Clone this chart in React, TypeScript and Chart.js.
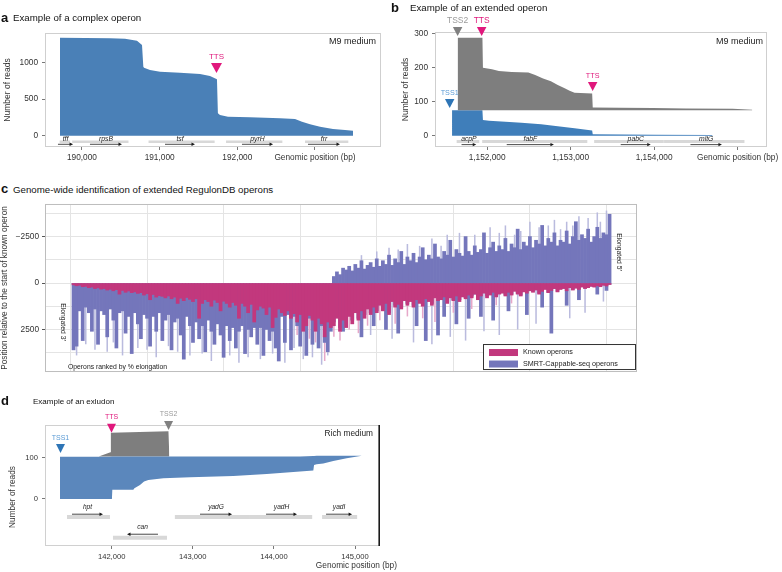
import React, { useEffect, useRef } from 'react';
import { Chart, registerables } from 'chart.js';

Chart.register(...registerables);

const FONT = '"Liberation Sans", Arial, Helvetica, sans-serif';
Chart.defaults.font.family = FONT;
Chart.defaults.color = '#333333';

/* ---------------- panel a : complex operon ---------------- */
const aPos = [189717, 190361, 190554, 190708, 190773, 190790, 190799, 190876, 191005, 191262, 191520, 191648, 191738, 191750, 191777, 191880, 192163, 192550, 192743, 192833, 192936, 193065, 193232, 193387, 193490];
const aReads = [1335, 1330, 1322, 1294, 1236, 940, 926, 895, 872, 858, 841, 813, 768, 305, 282, 259, 250, 237, 228, 191, 155, 123, 91, 78, 68];
const aXTicks = [190000, 191000, 192000, 193000];
const aYTicks = [0, 500, 1000];
const aGeneNames = ['tff', 'rpsB', 'tsf', 'pyrH', 'frr'];
const aGeneStart = [189712, 189874, 190857, 191855, 192872];
const aGeneEnd = [189847, 190599, 191708, 192580, 193429];
const aArrowFrom = [189691, 190103, 191069, 192060, 192910];
const aArrowTo = [189885, 190515, 191455, 192460, 193322];
const aMarkLabels = ['TTS'];
const aMarkPos = [191732];
const aMarkLevel = [854];

/* ---------------- panel b : extended operon ---------------- */
const bGrayPos = [1151647, 1151944, 1151950, 1152058, 1152141, 1152294, 1152494, 1152576, 1152670, 1152764, 1152846, 1152929, 1152988, 1153047, 1153258, 1153265, 1153588, 1153988, 1154376, 1154941, 1155176];
const bGrayReads = [287, 287, 199, 195, 190, 187, 185, 178, 168, 160, 149, 139, 132, 126, 124, 83, 82, 81, 80, 79, 76.5];
const bGrayBase = 75;
const bBluePos = [1151580, 1151944, 1151950, 1152023, 1152220, 1152411, 1152647, 1152846, 1153047, 1153258, 1153265, 1154000, 1154700];
const bBlueReads = [75, 75, 46, 44, 41, 38, 34, 28, 22, 15, 4, 3, 2];
const bXTicks = [1152000, 1153000, 1154000, 1155000];
const bYTicks = [0, 100, 200, 300];
const bGeneNames = ['acpP', 'fabF', 'pabC', 'mltG'];
const bGeneStart = [1151635, 1151941, 1153282, 1154119];
const bGeneEnd = [1151906, 1153200, 1154116, 1155082];
const bArrowFrom = [1151694, 1152235, 1153600, 1154435];
const bArrowTo = [1151870, 1152800, 1153960, 1154812];
const bMarkLabels = ['TSS1', 'TSS2', 'TTS', 'TTS'];
const bMarkPos = [1151552, 1151647, 1151935, 1153264];
const bMarkLevel = [81, 292, 292, 131];

/* ---------------- panel c : genome-wide ---------------- */
const knownEnd = [
  100, 150, 120, 200, 180, 250, 220, 300, 260, 330,
  300, 380, 340, 420, 360, 600, 400, 500, 430, 520,
  480, 560, 520, 650, 580, 900, 620, 760, 680, 720,
  800, 700, 850, 760, 1100, 820, 950, 780, 880, 1000,
  850, 1900, 1100, 900, 1000, 1250, 920, 1050, 1500, 980,
  1100, 1300, 1050, 1200, 1900, 1100, 1250, 1600, 1150, 2100,
  1450, 1250, 1350, 1700, 1300, 2400, 1850, 1400, 1600, 1750,
  1500, 1900, 1650, 2100, 1700, 2600, 2300, 1750, 2000, 2600,
  1900, 2200, 2900, 2100, 2400, 2300, 1900, 2600, 2000, 2400,
  1800, 2200, 1600, 2000, 1500, 1900, 1400, 1700, 1300, 1600,
  1200, 1500, 1100, 1700, 1000, 1300, 1150, 1400, 950, 1200,
  1000, 1300, 900, 1100, 1250, 850, 1000, 1200, 800, 950,
  900, 750, 1100, 800, 950, 700, 1000, 750, 850, 650,
  800, 600, 900, 700, 550, 800, 650, 500, 750, 600,
  550, 700, 500, 650, 450, 600, 700, 480, 550, 420,
  500, 380, 600, 450, 350, 520, 400, 300, 480, 350,
  300, 420, 250, 380, 280, 350, 220, 300, 250, 180,
  220, 150, 200, 120, 160, 80,
];
const smrtEnd = [
  3600, 3400, 1500, 3100, 1300, 1600, 2600, 1400, 3300, 1500,
  1700, 2900, 1400, 2000, 3500, 1600, 1500, 2700, 1800, 3800,
  1600, 2200, 3000, 1700, 1900, 3400, 1800, 2600, 1600, 3100,
  2000, 1700, 3600, 2100, 1900, 2800, 4100, 1800, 2300, 3200,
  2100, 3000, 2300, 3700, 2000, 2600, 3300, 2200, 2800, 4000,
  2300, 3100, 2400, 3500, 2600, 2300, 3800, 2500, 2900, 2400,
  3300, 2400, 3900, 2500, 3100, 2600, 3500, 4200, 1800, 3200,
  1700, 3600, 1800, 2300, 3400, 2000, 3900, 1900, 3300, 2500,
  3500, 2300, 3200, 3700, 2600, 2100, 1800, 2400, 2600, 2200,
  1700, 2000, 1500, 1900, 2900, 1700, 1300, 1600, 2300, 1500,
  1100, 1400, 2500, 1600, 900, 1200, 2700, 1300, 900, 1100,
  900, 1200, 2300, 1000, 1100, 3100, 900, 1100, 700, 2800,
  800, 1800, 1000, 700, 900, 2200, 900, 700, 800, 1900,
  700, 600, 800, 1800, 500, 700, 600, 2000, 700, 550,
  500, 650, 1500, 600, 400, 550, 650, 450, 1700, 400,
  450, 350, 550, 1300, 300, 500, 2700, 300, 450, 300,
  280, 1200, 250, 350, 260, 900, 200, 280, 230, 170,
  200, 600, 190, 110, 400, 70,
];
const smrtStart = [
  0, 0, 0, 0, 0, 0, 0, 0, 0, 0,
  0, 0, 0, 0, 0, 0, 0, 0, 0, 0,
  0, 0, 0, 0, 0, 0, 0, 0, 0, 0,
  0, 0, 0, 0, 0, 0, 0, 0, 0, 0,
  0, 0, 0, 0, 0, 0, 0, 0, 0, 0,
  0, 0, 0, 0, 0, 0, 0, 0, 0, 0,
  0, 0, 0, 0, 0, 0, 0, 0, 0, 0,
  0, 0, 0, 0, 0, 0, 0, 0, 0, 0,
  0, 0, 0, 0, 0, -350, -600, -450, -800, -700,
  -900, -650, -1000, -800, -1200, -750, -950, -1100, -850, -1300,
  -900, -1200, -1000, -1500, -950, -1300, -1100, -1700, -1000, -1400,
  -1200, -1600, -1100, -1400, -1900, -1250, -1500, -1300, -2100, -1400,
  -1300, -1700, -1500, -2300, -1400, -1800, -1600, -1450, -2500, -1700,
  -1500, -2000, -1650, -1800, -2700, -1600, -1900, -2200, -1700, -2000,
  -1800, -2400, -1700, -2100, -1900, -2900, -1800, -2200, -2000, -2500,
  -1900, -2300, -2100, -3100, -2000, -2400, -2200, -2700, -2000, -2300,
  -2200, -2800, -2100, -2500, -3300, -2300, -2600, -2400, -2900, -2200,
  -2500, -3000, -2400, -2700, -2600, -3700,
];
const smrtLight3Rank = [2, 5, 8, 12, 14, 17, 22, 25, 28, 32, 35, 39, 43, 46, 52, 55, 58, 62, 66, 70, 73, 76, 79, 82, 84, 98, 105, 112, 118, 124, 129, 135, 140, 146, 152, 163, 168, 174];
const smrtLight3End = [3900, 3300, 3600, 3700, 3200, 3900, 3500, 3600, 4000, 3400, 3700, 3900, 3800, 4200, 3900, 4300, 4000, 4100, 3800, 4300, 3500, 4100, 4000, 4400, 3900, 2800, 3000, 3200, 3300, 2900, 3100, 2600, 2800, 2500, 2200, 1900, 1600, 1000];
const smrtLight5Rank = [95, 100, 104, 107, 110, 114, 118, 121, 123, 127, 132, 137, 140, 142, 145, 147, 150, 153, 156, 158, 160, 162, 164, 166, 169, 172, 173, 175];
const smrtLight5Start = [-1500, -1700, -1900, -1800, -2100, -2000, -2400, -2000, -2600, -2700, -2600, -3000, -2700, -3100, -2600, -2800, -3300, -3000, -3100, -3400, -2900, -3300, -3100, -3600, -3500, -3800, -3300, -3900];
const knownLightRank = [74, 78, 80, 83, 86, 88, 91, 94, 97, 101, 106, 110, 115, 119, 125, 131, 139, 144, 149];
const knownLightEnd = [2800, 3000, 3200, 4200, 2900, 3100, 2500, 2700, 2300, 2000, 2200, 1800, 1900, 2100, 1600, 1400, 1200, 1100, 1000];
const cRankGrid = [0, 25, 50, 75, 100, 125, 150, 175];
const cYGrid = [-3750, -2500, -1250, 0, 1250, 2500, 3750];

/* ---------------- panel d : exludon ---------------- */
const dPos = [141363, 141979, 142003, 142008, 142267, 142280, 142349, 142399, 142452, 142637, 142966, 143500, 143912, 144199, 144322, 144486, 144495, 144527, 144609, 144732, 144897, 145083];
const dUpper = [102, 102, 103, 103, 103, 103, 103, 103, 103, 103, 103, 103, 103, 103, 103, 104, 104, 104.5, 104.5, 104.5, 104.5, 104.5];
const dLower = [0, 0, 0, 22, 22, 26, 34, 42, 46, 50, 52.5, 55.6, 60.5, 64.6, 66.5, 68.6, 82, 84, 86, 92, 98.5, 104.5];
const dGrayPos = [141840, 141985, 141990, 142700, 142711];
const dGrayReads = [103, 113, 160, 164, 103];
const dGrayBase = 103;
const dXTicks = [142000, 143000, 144000, 145000];
const dYTicks = [0, 100];
const dGeneNames = ['hpt', 'can', 'yadG', 'yadH', 'yadI'];
const dGeneStart = [141449, 142016, 142779, 143702, 144594];
const dGeneEnd = [141979, 142682, 143705, 144472, 145026];
const dGeneStrand = [1, -1, 1, 1, 1];
const dArrowFrom = [141511, 142571, 143089, 143903, 144643];
const dArrowTo = [141893, 142189, 143484, 144285, 144964];
const dMarkLabels = ['TSS1', 'TTS', 'TSS2'];
const dMarkPos = [141369, 141998, 142701];
const dMarkLevel = [111, 160, 167];

/* ---------------- styles ---------------- */
const BLUE_A = '#4a80b7';
const BLUE_B = '#3f7eba';
const BLUE_D = '#5b87bc';
const GRAY_AREA = '#7e7e7e';
const C_KNOWN = '#c2387d';
const C_SMRT = '#7476bb';
const C_KNOWN_LIGHT = '#e6a8c9';
const C_SMRT_LIGHT = '#babbde';
const C_GRID = '#e4e4e4';
const MARK: Record<string, { fill: string; text: string }> = {
  TSS1: { fill: '#2e75b6', text: '#5b9bd5' },
  TSS2: { fill: '#808080', text: '#9a9a9a' },
  TTS: { fill: '#e0187c', text: '#e0187c' },
};

const fmt = (v: number) => Math.round(v).toLocaleString('en-US');
const ticksOf = (vals: number[]) => (s: any) => {
  s.ticks = vals.map((value) => ({ value }));
};
const genomicLabel = (vals: number[]) => (v: any) =>
  Number(v) === vals[vals.length - 1] ? 'Genomic position (bp)' : fmt(Number(v));

const tickGrid = { drawOnChartArea: false, drawTicks: true, tickLength: 3, tickColor: '#555', tickWidth: 0.8 };

/* ---------------- plugins ---------------- */
const boxPlugin = (stroke: string, rightStroke?: string) => ({
  id: 'box',
  afterDatasetsDraw(chart: any) {
    const { ctx, chartArea: a } = chart;
    ctx.save();
    ctx.strokeStyle = stroke;
    ctx.lineWidth = 1;
    ctx.strokeRect(a.left + 0.5, a.top + 0.5, a.right - a.left - 1, a.bottom - a.top - 1);
    if (rightStroke) {
      ctx.strokeStyle = rightStroke;
      ctx.lineWidth = 1.6;
      ctx.beginPath();
      ctx.moveTo(a.right - 0.8, a.top);
      ctx.lineTo(a.right - 0.8, a.bottom);
      ctx.stroke();
    }
    ctx.restore();
  },
});

type Row = { bar: number; arrow: number; label: number };
const genePlugin = (t: {
  names: string[]; start: number[]; end: number[]; from: number[]; to: number[];
  rows: Row[]; rowOf: (i: number) => number; barWidth: number; font: number;
}) => ({
  id: 'genes',
  afterDatasetsDraw(chart: any) {
    const { ctx } = chart;
    const xs = chart.scales.x;
    const ys = chart.scales.y;
    ctx.save();
    t.names.forEach((name, i) => {
      const r = t.rows[t.rowOf(i)];
      const yb = ys.getPixelForValue(r.bar);
      const ya = ys.getPixelForValue(r.arrow);
      const yl = ys.getPixelForValue(r.label);
      ctx.strokeStyle = '#d8d8d8';
      ctx.lineWidth = t.barWidth;
      ctx.lineCap = 'butt';
      ctx.beginPath();
      ctx.moveTo(xs.getPixelForValue(t.start[i]), yb);
      ctx.lineTo(xs.getPixelForValue(t.end[i]), yb);
      ctx.stroke();
      const x0 = xs.getPixelForValue(t.from[i]);
      const x1 = xs.getPixelForValue(t.to[i]);
      const dir = x1 > x0 ? 1 : -1;
      ctx.strokeStyle = '#1a1a1a';
      ctx.lineWidth = 0.8;
      ctx.beginPath();
      ctx.moveTo(x0, ya);
      ctx.lineTo(x1 - dir * 3, ya);
      ctx.stroke();
      ctx.fillStyle = '#1a1a1a';
      ctx.beginPath();
      ctx.moveTo(x1, ya);
      ctx.lineTo(x1 - dir * 3.5, ya - 1.7);
      ctx.lineTo(x1 - dir * 3.5, ya + 1.7);
      ctx.closePath();
      ctx.fill();
      ctx.font = `italic ${t.font}px ${FONT}`;
      ctx.fillStyle = '#222';
      ctx.textAlign = 'center';
      ctx.textBaseline = 'middle';
      ctx.fillText(name, (x0 + x1) / 2, yl);
    });
    ctx.restore();
  },
});

const markerPlugin = (labels: string[], pos: number[], level: number[], w: number, h: number, sizes: number[]) => ({
  id: 'markers',
  afterDatasetsDraw(chart: any) {
    const { ctx } = chart;
    const xs = chart.scales.x;
    const ys = chart.scales.y;
    ctx.save();
    labels.forEach((lab, i) => {
      const st = MARK[lab];
      const x = xs.getPixelForValue(pos[i]);
      const y = ys.getPixelForValue(level[i]);
      ctx.fillStyle = st.fill;
      ctx.beginPath();
      ctx.moveTo(x - w / 2, y - h);
      ctx.lineTo(x + w / 2, y - h);
      ctx.lineTo(x, y);
      ctx.closePath();
      ctx.fill();
      ctx.font = `${sizes[i]}px ${FONT}`;
      ctx.fillStyle = st.text;
      ctx.textAlign = 'center';
      ctx.textBaseline = 'middle';
      ctx.fillText(lab, x, y - h - 6.5);
    });
    ctx.restore();
  },
});

type TItem = { text: string; x: (a: any) => number; y: (a: any) => number; size: number; color?: string; align?: CanvasTextAlign; rot?: number; style?: string };
const textPlugin = (items: TItem[]) => ({
  id: 'texts',
  afterDraw(chart: any) {
    const { ctx, chartArea: a } = chart;
    items.forEach((t) => {
      ctx.save();
      ctx.translate(t.x(a), t.y(a));
      if (t.rot) ctx.rotate(t.rot);
      ctx.font = `${t.style ? t.style + ' ' : ''}${t.size}px ${FONT}`;
      ctx.fillStyle = t.color || '#222';
      ctx.textAlign = t.align || 'center';
      ctx.textBaseline = 'middle';
      ctx.fillText(t.text, 0, 0);
      ctx.restore();
    });
  },
});

const cLegendPlugin = {
  id: 'cLegend',
  afterDraw(chart: any) {
    const { ctx, chartArea: a } = chart;
    const ds = chart.data.datasets.filter((d: any) => d.label);
    const w = 153;
    const h = 26;
    const x = a.right - 1 - w;
    const y = a.bottom - 2 - h;
    ctx.save();
    ctx.fillStyle = '#ffffff';
    ctx.fillRect(x, y, w, h);
    ctx.strokeStyle = '#333';
    ctx.lineWidth = 1;
    ctx.strokeRect(x + 0.5, y + 0.5, w - 1, h - 1);
    ds.forEach((d: any, i: number) => {
      const yy = y + 5 + i * 11.5;
      ctx.fillStyle = d.backgroundColor;
      ctx.fillRect(x + 6, yy, 29, 7);
      ctx.fillStyle = '#222';
      ctx.font = `7.2px ${FONT}`;
      ctx.textAlign = 'left';
      ctx.textBaseline = 'middle';
      ctx.fillText(d.label, x + 40, yy + 3.5);
    });
    ctx.restore();
  },
};

/* ---------------- options helper ---------------- */
function readsOptions(p: {
  padTop: number; padRight: number; xHeight: number; xMin: number; xMax: number; xTicks: number[];
  xLabel: (v: any) => string; yMin: number; yMax: number; yTicks: number[]; yTitle: boolean; yTitlePad: number; fontSize: number;
}) {
  return {
    responsive: false,
    animation: false,
    events: [],
    layout: { padding: { top: p.padTop, right: p.padRight, bottom: 0, left: 0 } },
    plugins: { legend: { display: false }, tooltip: { enabled: false } },
    scales: {
      x: {
        type: 'linear', min: p.xMin, max: p.xMax, offset: false,
        afterBuildTicks: ticksOf(p.xTicks),
        afterFit: (s: any) => { s.height = p.xHeight; },
        ticks: { autoSkip: false, maxRotation: 0, padding: 3, font: { size: p.fontSize }, color: '#333', callback: p.xLabel },
        grid: tickGrid,
        border: { display: false },
      },
      y: {
        type: 'linear', min: p.yMin, max: p.yMax,
        afterBuildTicks: ticksOf(p.yTicks),
        afterFit: (s: any) => { s.width = 45; },
        ticks: { padding: 4, font: { size: p.fontSize }, color: '#333', callback: (v: any) => String(v) },
        grid: tickGrid,
        border: { display: false },
        title: { display: p.yTitle, text: 'Number of reads', font: { size: 8.5 }, color: '#333', padding: { top: p.yTitlePad, bottom: 0 } },
      },
    },
  };
}

const areaStyle = { borderColor: 'transparent', borderWidth: 0, pointRadius: 0, tension: 0 };

function makeA(): any {
  return {
    type: 'line',
    data: {
      datasets: [{ data: aPos.map((x, i) => ({ x, y: aReads[i] })), fill: 'origin', backgroundColor: BLUE_A, ...areaStyle }],
    },
    options: readsOptions({
      padTop: 33, padRight: 9, xHeight: 23, xMin: 189524, xMax: 193850, xTicks: aXTicks, xLabel: genomicLabel(aXTicks),
      yMin: -154, yMax: 1400, yTicks: aYTicks, yTitle: true, yTitlePad: 3, fontSize: 8.3,
    }),
    plugins: [
      boxPlugin('#cfcfcf'),
      genePlugin({
        names: aGeneNames, start: aGeneStart, end: aGeneEnd, from: aArrowFrom, to: aArrowTo,
        rows: [{ bar: -82, arrow: -117, label: -49 }], rowOf: () => 0, barWidth: 2.5, font: 6.8,
      }),
      markerPlugin(aMarkLabels, aMarkPos, aMarkLevel, 11, 10, [8]),
      textPlugin([{ text: 'M9 medium', x: (a) => a.right - 5, y: (a) => a.top + 9, size: 9, align: 'right' }]),
    ],
  };
}

function makeB(): any {
  return {
    type: 'line',
    data: {
      datasets: [
        { data: bGrayPos.map((x, i) => ({ x, y: bGrayReads[i] })), fill: { value: bGrayBase }, backgroundColor: GRAY_AREA, ...areaStyle },
        { data: bBluePos.map((x, i) => ({ x, y: bBlueReads[i] })), fill: 'origin', backgroundColor: BLUE_B, ...areaStyle },
      ],
    },
    options: readsOptions({
      padTop: 32, padRight: 9, xHeight: 23, xMin: 1151376, xMax: 1155352, xTicks: bXTicks, xLabel: genomicLabel(bXTicks),
      yMin: -33, yMax: 304, yTicks: bYTicks, yTitle: true, yTitlePad: 11, fontSize: 8.3,
    }),
    plugins: [
      boxPlugin('#cfcfcf'),
      genePlugin({
        names: bGeneNames, start: bGeneStart, end: bGeneEnd, from: bArrowFrom, to: bArrowTo,
        rows: [{ bar: -17, arrow: -26, label: -10.5 }], rowOf: () => 0, barWidth: 3, font: 6.8,
      }),
      markerPlugin(bMarkLabels, bMarkPos, bMarkLevel, 9.5, 9, [7.2, 8.5, 8.5, 7.2]),
      textPlugin([{ text: 'M9 medium', x: (a) => a.right - 4, y: (a) => a.top + 9.7, size: 9, align: 'right' }]),
    ],
  };
}

function makeC(): any {
  const ranks = knownEnd.map((_, i) => i + 1);
  return {
    type: 'bar',
    data: {
      datasets: [
        { label: 'Known operons', data: ranks.map((x, i) => ({ x, y: [0, knownEnd[i]] })), backgroundColor: C_KNOWN, order: 1 },
        { label: 'SMRT-Cappable-seq operons', data: ranks.map((x, i) => ({ x, y: [smrtStart[i], smrtEnd[i]] })), backgroundColor: C_SMRT, order: 2 },
        { label: '', data: knownLightRank.map((x, i) => ({ x, y: [0, knownLightEnd[i]] })), backgroundColor: C_KNOWN_LIGHT, barPercentage: 0.5, order: 3 },
        {
          label: '',
          data: smrtLight3Rank.map((x, i) => ({ x, y: [0, smrtLight3End[i]] })).concat(smrtLight5Rank.map((x, i) => ({ x, y: [smrtLight5Start[i], 0] }))),
          backgroundColor: C_SMRT_LIGHT, barPercentage: 0.5, order: 4,
        },
      ],
    },
    options: {
      responsive: false,
      animation: false,
      events: [],
      layout: { padding: { top: 6, right: 23, bottom: 0, left: 0 } },
      datasets: { bar: { grouped: false, barPercentage: 1, categoryPercentage: 1 } },
      plugins: { legend: { display: false }, tooltip: { enabled: false } },
      scales: {
        x: {
          type: 'linear', min: -8.31, max: 184.96, offset: false,
          afterBuildTicks: ticksOf(cRankGrid),
          afterFit: (s: any) => { s.height = 3; },
          ticks: { display: false },
          grid: { color: C_GRID, lineWidth: 1, drawTicks: false, offset: false },
          border: { display: false },
        },
        y: {
          type: 'linear', reverse: true, min: -4255, max: 4793,
          afterBuildTicks: ticksOf(cYGrid),
          afterFit: (s: any) => { s.width = 45; },
          ticks: {
            padding: 3, font: { size: 8.3 }, color: '#333',
            callback: (v: any) => (Number(v) % 2500 === 0 ? String(v).replace('-', '\u2212') : ''),
          },
          grid: {
            color: C_GRID, lineWidth: 1, tickLength: 3,
            tickColor: (c: any) => (c.tick && c.tick.value % 2500 === 0 ? '#555' : 'rgba(0,0,0,0)'),
          },
          border: { display: false },
          title: { display: true, text: 'Position relative to the start of known operon', font: { size: 8.3 }, color: '#333', padding: { top: 0, bottom: 0 } },
        },
      },
    },
    plugins: [
      boxPlugin('#bdbdbd'),
      textPlugin([
        { text: 'Elongated 3\u2032', x: (a) => a.left + 18, y: (a) => a.top + 118, size: 6.8, rot: Math.PI / 2 },
        { text: 'Elongated 5\u2032', x: (a) => a.right - 18, y: (a) => a.top + 48, size: 6.8, rot: Math.PI / 2 },
        { text: 'Operons ranked by % elongation', x: (a) => a.left + 23, y: (a) => a.bottom - 5, size: 6.8, align: 'left' },
      ]),
      cLegendPlugin,
    ],
  };
}

function makeD(): any {
  return {
    type: 'line',
    data: {
      datasets: [
        { data: dPos.map((x, i) => ({ x, y: dUpper[i] })), fill: '+1', backgroundColor: BLUE_D, ...areaStyle },
        { data: dPos.map((x, i) => ({ x, y: dLower[i] })), fill: false, backgroundColor: 'transparent', ...areaStyle },
        { data: dGrayPos.map((x, i) => ({ x, y: dGrayReads[i] })), fill: { value: dGrayBase }, backgroundColor: GRAY_AREA, ...areaStyle },
      ],
    },
    options: readsOptions({
      padTop: 20, padRight: 20, xHeight: 26, xMin: 141178, xMax: 145308, xTicks: dXTicks, xLabel: (v: any) => fmt(Number(v)),
      yMin: -114, yMax: 179, yTicks: dYTicks, yTitle: false, yTitlePad: 0, fontSize: 7.6,
    }),
    plugins: [
      boxPlugin('#d0d0d0', '#1a1a1a'),
      genePlugin({
        names: dGeneNames, start: dGeneStart, end: dGeneEnd, from: dArrowFrom, to: dArrowTo,
        rows: [{ bar: -44, arrow: -37, label: -20 }, { bar: -94, arrow: -85.5, label: -68.5 }],
        rowOf: (i) => (dGeneStrand[i] > 0 ? 0 : 1), barWidth: 4, font: 6.6,
      }),
      markerPlugin(dMarkLabels, dMarkPos, dMarkLevel, 9, 9, [7, 7, 7]),
      textPlugin([
        { text: 'Rich medium', x: (a) => a.right - 7, y: (a) => a.top + 9, size: 8.3, align: 'right' },
        { text: 'Genomic position (bp)', x: (a) => a.right + 17, y: (a) => a.bottom + 20, size: 8.3, align: 'right', color: '#333' },
        { text: 'Number of reads', x: (a) => a.left - 32, y: (a) => a.top + 72, size: 8.3, rot: -Math.PI / 2, color: '#333' },
      ]),
    ],
  };
}

function ChartPanel(props: { left: number; top: number; width: number; height: number; config: () => any }) {
  const ref = useRef<HTMLCanvasElement | null>(null);
  useEffect(() => {
    if (!ref.current) return undefined;
    const chart = new Chart(ref.current, props.config());
    return () => chart.destroy();
  }, []);
  return (
    <canvas
      ref={ref}
      width={props.width}
      height={props.height}
      style={{ position: 'absolute', left: props.left, top: props.top, width: props.width, height: props.height }}
    />
  );
}

function Title(props: { left: number; top: number; size: number; bold?: boolean; children: React.ReactNode }) {
  return (
    <div
      style={{
        position: 'absolute', left: props.left, top: props.top, fontSize: props.size, lineHeight: 1,
        fontWeight: props.bold ? 'bold' : 'normal', color: '#111', whiteSpace: 'nowrap', fontFamily: FONT,
      }}
    >
      {props.children}
    </div>
  );
}

export default function App() {
  return (
    <div style={{ position: 'absolute', left: 0, top: 0, width: 782, height: 572, background: '#ffffff', overflow: 'hidden', fontFamily: FONT }}>
      <ChartPanel left={0} top={0} width={390} height={170} config={makeA} />
      <ChartPanel left={390} top={0} width={392} height={170} config={makeB} />
      <ChartPanel left={0} top={196} width={660} height={184} config={makeC} />
      <ChartPanel left={0} top={405} width={400} height={167} config={makeD} />
      <Title left={1} top={10.7} size={13} bold>a</Title>
      <Title left={13} top={12.5} size={9.7}>Example of a complex operon</Title>
      <Title left={391} top={0.7} size={13} bold>b</Title>
      <Title left={410} top={2.5} size={9.7}>Example of an extended operon</Title>
      <Title left={1} top={182.3} size={13} bold>c</Title>
      <Title left={13} top={185.1} size={9.7}>Genome-wide identification of extended RegulonDB operons</Title>
      <Title left={1} top={394} size={13} bold>d</Title>
      <Title left={33} top={398.2} size={8}>Example of an exludon</Title>
    </div>
  );
}
